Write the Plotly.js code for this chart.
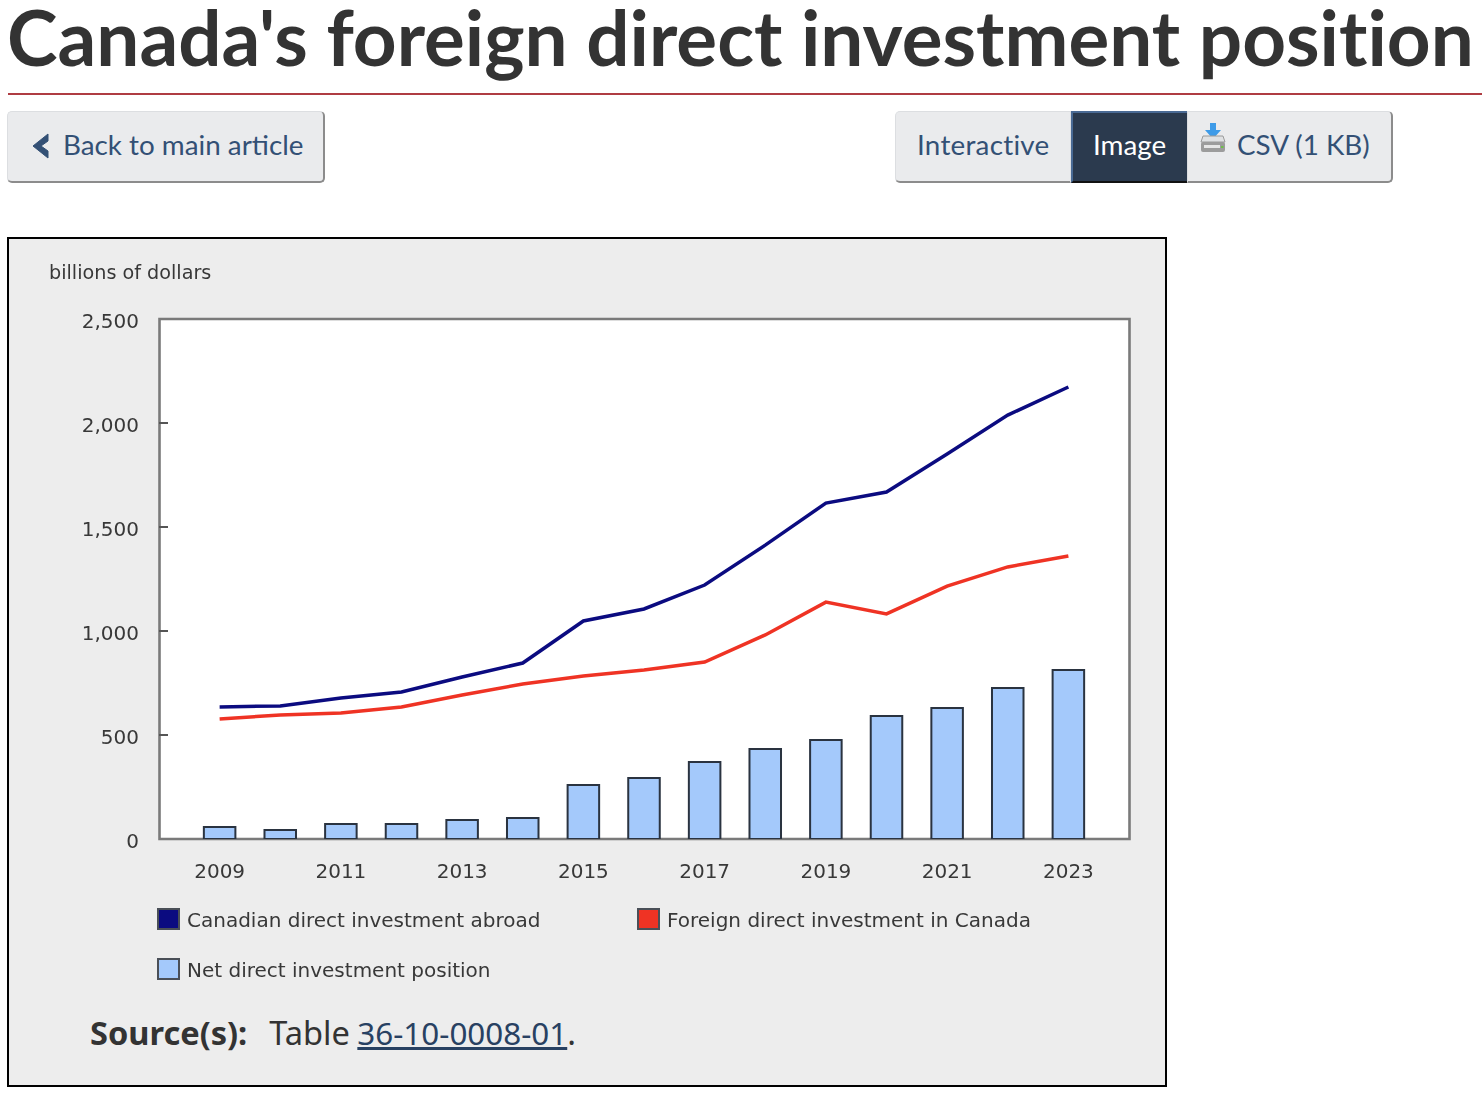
<!DOCTYPE html>
<html><head><meta charset="utf-8">
<script src="https://cdn.plot.ly/plotly-3.0.0.min.js"></script>
<style>
html,body{margin:0;padding:0;background:#fff;width:1482px;height:1110px;overflow:hidden;font-variant-ligatures:none}
.abs{position:absolute;white-space:nowrap}
#title{left:7px;top:-1px;font:700 76.4px/76px Lato;color:#333;font-variant-ligatures:none}
#rule{left:8px;top:93px;width:1474px;height:2px;background:#af3c43}
.btn{box-sizing:border-box;height:72px;top:111px;background:#eaebed;color:#335075;font:400 27.8px/66px Lato;border:1px solid #dcdee1;border-bottom:2px solid #8c8c8c}
#back{left:7px;width:318px;border-radius:5px;border-right:2px solid #8c8c8c;padding-left:55px}
#inter{left:895px;width:176px;border-radius:5px 0 0 5px;padding-left:21px;letter-spacing:.25px}
#img{left:1071px;width:116px;background:#2b3a4e;color:#fff;padding-left:20px;border:0;border-left:2px solid #4a6a94;border-top:2px solid #4a6a94;border-bottom:2px solid #111;line-height:64px}
#csv{left:1187px;width:206px;border-radius:0 5px 5px 0;border-right:2px solid #8c8c8c;padding-left:49px}
#panel{left:7px;top:237px;width:1160px;height:850px;box-sizing:border-box;border:2px solid #000;background:#ededed}
#chart{left:0;top:0;width:1482px;height:1110px;filter:blur(.6px)}
#source{left:90px;top:1010px;font:400 32.6px/46px "Noto Sans";color:#333}
#source b{font-weight:700;margin-right:22px}
#source a{color:#284162;text-decoration:underline;font-size:31.4px;margin-left:-1px}
</style></head><body>
<div class="abs" id="title">Canada's foreign direct investment position</div>
<div class="abs" id="rule"></div>
<div class="abs btn" id="back">Back to main article</div>
<svg class="abs" style="left:28px;top:132px" width="24" height="28"><path d="M20 2 L5 14 L20 26 L20 19 L13 14 L20 9 Z" fill="#335075" stroke="#335075" stroke-linejoin="round"/></svg>
<div class="abs btn" id="inter">Interactive</div>
<div class="abs btn" id="img">Image</div>
<div class="abs btn" id="csv">CSV (1 KB)</div>
<svg class="abs" style="left:1199px;top:121px" width="28" height="34">
 <path d="M11 2h6v7h5l-8 9-8-9h5z" fill="#3e9be8"/>
 <path d="M4 15h20l2 6H2z" fill="#dfe1e3" stroke="#9a9a9a"/>
 <rect x="2" y="21" width="24" height="10" rx="2" fill="#9c9c9c"/>
 <rect x="5" y="24" width="16" height="3" fill="#e6e6e6"/><rect x="22" y="25" width="2.5" height="2" fill="#6fbf4a"/>
</svg>
<div class="abs" id="panel"></div>
<div class="abs" id="chart"></div>
<div class="abs" id="source"><b>Source(s):</b>Table <a href="#">36-10-0008-01</a>.</div>
<script>
const years=[2009,2010,2011,2012,2013,2014,2015,2016,2017,2018,2019,2020,2021,2022,2023];
const abroad=[635,640,678,707,779,846,1048,1106,1221,1413,1615,1668,1851,2038,2173];
const inCanada=[577,596,606,635,692,745,784,812,851,981,1139,1082,1216,1308,1361];
const netPosition=[58,43,72,72,91,101,260,293,370,433,476,591,630,726,812];
const yTicks=[0,500,1000,1500,2000,2500];
const yTickLabels=['0','500','1,000','1,500','2,000','2,500'];
const xTicks=[2009,2011,2013,2015,2017,2019,2021,2023];
const seriesNames=['Canadian direct investment abroad','Foreign direct investment in Canada','Net direct investment position'];
const seriesColors=['#0b0b80','#ef3324','#a4c9fb'];
const unitLabel='billions of dollars';

const W=1482,H=1110,L=159,T=319,R=1129,B=839;
const px=x=>(x-L)/(R-L), py=y=>(B-y)/(B-T);
const textColor='#383838', chartFont='"DejaVu Sans"';
const legendPos=[[158,909],[638,909],[158,959]];
const shapes=[{type:'rect',layer:'below',xref:'paper',yref:'paper',x0:px(159.5),x1:px(1129.5),y0:py(319),y1:py(839),line:{color:'#7a7a7a',width:2.6}}];
const annotations=[{xref:'paper',yref:'paper',x:px(46.5),y:py(272),xanchor:'left',yanchor:'middle',showarrow:false,text:unitLabel,font:{family:chartFont,size:19.2,color:textColor}}];
seriesNames.forEach((n,i)=>{
  const [x,y]=legendPos[i];
  shapes.push({type:'rect',xref:'paper',yref:'paper',x0:px(x),x1:px(x+21),y0:py(y),y1:py(y+20),fillcolor:seriesColors[i],line:{color:'#4a4f57',width:2}});
  annotations.push({xref:'paper',yref:'paper',x:px(x+27),y:py(y+11),xanchor:'left',yanchor:'middle',showarrow:false,text:n,font:{family:chartFont,size:20,color:textColor}});
});
const traces=[
 {type:'bar',x:years,y:netPosition,name:seriesNames[2],width:.52,marker:{color:seriesColors[2],line:{color:'#2a3340',width:2}}},
 {type:'scatter',mode:'lines',x:years,y:abroad,name:seriesNames[0],line:{color:seriesColors[0],width:3.5}},
 {type:'scatter',mode:'lines',x:years,y:inCanada,name:seriesNames[1],line:{color:seriesColors[1],width:3.5}}
];
const layout={
 width:W,height:H,margin:{l:L,t:T,r:W-R,b:H-B,pad:0},
 paper_bgcolor:'rgba(0,0,0,0)',plot_bgcolor:'#fff',showlegend:false,
 shapes,annotations,
 font:{family:chartFont,size:20,color:textColor},
 xaxis:{range:[2008,2024],tickmode:'array',tickvals:xTicks,ticktext:xTicks.map(String),ticks:'',showgrid:false,zeroline:false,
   showline:false,ticklabelstandoff:18,tickangle:0,tickfont:{family:chartFont,size:20,color:textColor}},
 yaxis:{range:[0,2500],tickmode:'array',tickvals:yTicks,ticktext:yTickLabels,ticks:'inside',ticklen:9,tickwidth:2,tickcolor:'#555',showgrid:false,zeroline:false,
   showline:false,ticklabelstandoff:19,ticklabelshift:2,tickfont:{family:chartFont,size:20,color:textColor}}
};
Plotly.newPlot('chart',traces,layout,{staticPlot:true,displayModeBar:false});
</script></body></html>
